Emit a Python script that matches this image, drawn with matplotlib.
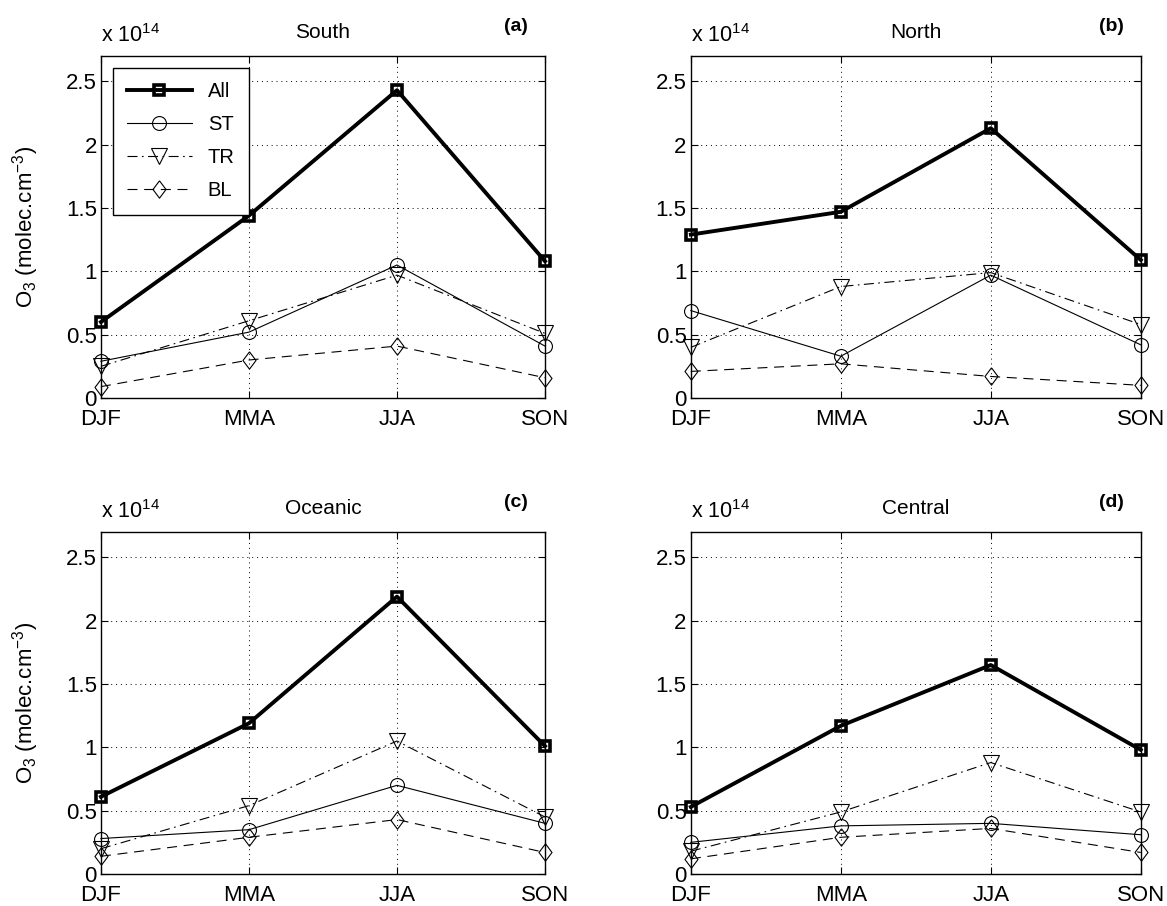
import matplotlib
matplotlib.use("Agg")
import matplotlib.pyplot as plt

plt.rcParams['font.family'] = ['Liberation Sans', 'DejaVu Sans']
plt.rcParams['mathtext.fontset'] = 'custom'
plt.rcParams['mathtext.rm'] = 'Liberation Sans'
plt.rcParams['mathtext.it'] = 'Liberation Sans:italic'
plt.rcParams['mathtext.bf'] = 'Liberation Sans:bold'

# seasons on the x axis
seasons = ['DJF', 'MMA', 'JJA', 'SON']
series_names = ['All', 'ST', 'TR', 'BL']

# O3 values in units of 1e14 molec/cm3
south_all = [0.60, 1.44, 2.43, 1.08]
south_st = [0.29, 0.52, 1.05, 0.41]
south_tr = [0.25, 0.61, 0.97, 0.51]
south_bl = [0.09, 0.30, 0.41, 0.16]

north_all = [1.29, 1.47, 2.13, 1.09]
north_st = [0.69, 0.33, 0.97, 0.42]
north_tr = [0.40, 0.88, 0.99, 0.58]
north_bl = [0.21, 0.27, 0.17, 0.10]

oceanic_all = [0.61, 1.19, 2.19, 1.01]
oceanic_st = [0.28, 0.35, 0.70, 0.40]
oceanic_tr = [0.20, 0.54, 1.05, 0.45]
oceanic_bl = [0.14, 0.29, 0.43, 0.17]

central_all = [0.53, 1.17, 1.65, 0.98]
central_st = [0.25, 0.38, 0.40, 0.31]
central_tr = [0.18, 0.49, 0.88, 0.49]
central_bl = [0.12, 0.29, 0.36, 0.17]

panel_titles = ['South', 'North', 'Oceanic', 'Central']
panel_letters = ['(a)', '(b)', '(c)', '(d)']
panel_data = [
    [south_all, south_st, south_tr, south_bl],
    [north_all, north_st, north_tr, north_bl],
    [oceanic_all, oceanic_st, oceanic_tr, oceanic_bl],
    [central_all, central_st, central_tr, central_bl],
]

# line styles for All, ST, TR, BL
diamond = [(0, 1), (0.75, 0), (0, -1), (-0.75, 0), (0, 1)]
styles = [
    dict(ls='-', lw=2.8, marker='s', ms=6.5, mew=2.6),
    dict(ls='-', lw=0.8, marker='o', ms=10, mew=0.8),
    dict(ls=(0, (9, 4, 1.5, 4)), lw=0.8, marker='v', ms=11, mew=0.8),
    dict(ls=(0, (9, 6)), lw=0.8, marker=diamond, ms=12.5, mew=0.8),
]

fig = plt.figure(figsize=(11.67, 9.06), dpi=100)
positions = [
    [0.0865, 0.5607, 0.3805, 0.3775],
    [0.592, 0.5607, 0.3855, 0.3775],
    [0.0865, 0.0353, 0.3805, 0.3775],
    [0.592, 0.0353, 0.3855, 0.3775],
]

x = list(range(len(seasons)))
for k in range(4):
    ax = fig.add_axes(positions[k])
    for vals, name, st in zip(panel_data[k], series_names, styles):
        ax.plot(x, vals, color='k', mfc='none', mec='k', label=name, **st,
                clip_on=False, zorder=3)
    ax.set_xlim(0, 3)
    ax.set_ylim(0, 2.7)
    ax.set_xticks(x)
    ax.set_xticklabels(seasons)
    ax.set_yticks([0, 0.5, 1, 1.5, 2, 2.5])
    ax.set_yticklabels(['0', '0.5', '1', '1.5', '2', '2.5'])
    ax.tick_params(direction='in', length=5, width=0.8, labelsize=16,
                   top=True, right=True, pad=3)
    ax.tick_params(axis='x', pad=8)
    ax.grid(True, color='k', linestyle=(0, (1, 4)), linewidth=0.7)
    for sp in ax.spines.values():
        sp.set_linewidth(1.0)
    ax.text(0.5, 1.07, panel_titles[k], transform=ax.transAxes,
            ha='center', va='center', fontsize=15)
    ax.text(0.935, 1.085, panel_letters[k], transform=ax.transAxes,
            ha='center', va='center', fontsize=14, fontweight='bold')
    ax.text(0.0, 1.025, r'x 10$^{14}$', transform=ax.transAxes,
            ha='left', va='bottom', fontsize=15.5)
    if k % 2 == 0:
        ax.set_ylabel(r'O$_3$ (molec.cm$^{-3}$)', fontsize=16, labelpad=18)
    if k == 0:
        leg = ax.legend(loc='upper left', fontsize=14.5, handlelength=3.2,
                        borderaxespad=0.6, labelspacing=0.7, fancybox=False,
                        framealpha=1, edgecolor='k', borderpad=0.7)
        leg.get_frame().set_linewidth(1.0)

fig.savefig('out.png', dpi=100)
